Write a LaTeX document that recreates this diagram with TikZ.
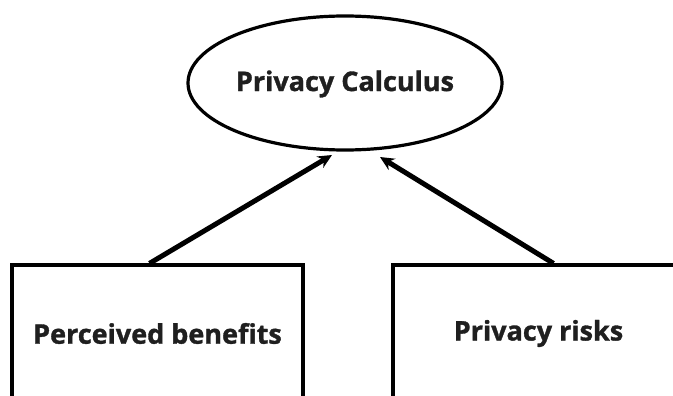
\documentclass[tikz,border=0pt]{standalone}
\usepackage{fontspec}
\setmainfont{Open Sans}[BoldFeatures={FakeBold=1.2}]
\usetikzlibrary{shapes.geometric,arrows.meta}
\tikzset{
  lbl/.style={font=\fontsize{27}{30}\selectfont\bfseries, text=black!88},
  oval/.style={draw, ellipse, line width=3.2pt, minimum width=314pt, minimum height=134pt, inner sep=0pt},
  factor/.style={draw, line width=3.2pt, minimum width=291pt, minimum height=135pt, inner sep=0pt},
  link/.style={line width=5pt, -{Stealth[length=14pt,width=13pt]}}
}
\begin{document}
\begin{tikzpicture}[x=1pt,y=-1pt]
\useasboundingbox (0,0) rectangle (673,396);
\node[oval] (calc) at (345,83) {};
\node[lbl] at ([yshift=-1pt]calc.center) {Privacy Calculus};
\node[factor] (ben) at (157.5,332.5) {};
\node[lbl] at ([yshift=-1pt]ben.center) {Perceived benefits};
\node[factor] (risk) at (538.5,332.5) {};
\node[lbl] at ([yshift=-1pt]risk.center) {Privacy risks};
\coordinate (tipL) at (332,155);
\coordinate (tipR) at (380,157);
\draw[link] ([xshift=-8pt]ben.north) -- (tipL);
\draw[link] ([xshift=15pt]risk.north) -- (tipR);
\end{tikzpicture}
\end{document}
